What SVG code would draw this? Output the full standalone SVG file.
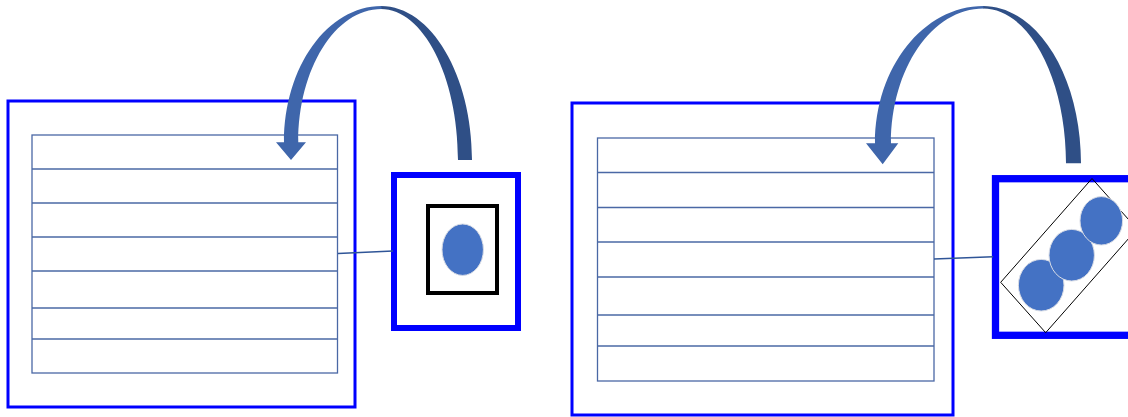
<svg xmlns="http://www.w3.org/2000/svg" width="1128" height="417" viewBox="0 0 1128 417">
  <defs>
    <style>
      .frame { fill: #ffffff; stroke: #0000ff; }
      .table { fill: #ffffff; stroke: #4a68a5; stroke-width: 1.3; }
      .row { stroke: #4a68a5; stroke-width: 1.3; }
      .conn { stroke: #2f5597; stroke-width: 1.6; fill: none; }
      .dot { fill: #4472c4; stroke: #d9dde6; stroke-width: 1; }
      .arrowL { fill: #3f66ab; }
      .arrowR { fill: #2f4f86; }
    </style>
  </defs>
  <rect width="1128" height="417" fill="#ffffff"/>

  <g id="table-left">
    <rect class="frame" x="8" y="101" width="347" height="306" stroke-width="3"/>
    <rect class="table" x="32" y="135" width="305.5" height="238"/>
    <line class="row" x1="32" y1="169" x2="337.5" y2="169"/>
    <line class="row" x1="32" y1="203" x2="337.5" y2="203"/>
    <line class="row" x1="32" y1="237" x2="337.5" y2="237"/>
    <line class="row" x1="32" y1="271" x2="337.5" y2="271"/>
    <line class="row" x1="32" y1="308" x2="337.5" y2="308"/>
    <line class="row" x1="32" y1="339" x2="337.5" y2="339"/>
  </g>

  <g id="cell-left">
    <rect class="frame" x="394" y="175" width="124" height="153" stroke-width="6"/>
    <rect x="428" y="206" width="69" height="87" fill="#ffffff" stroke="#000000" stroke-width="4"/>
    <ellipse class="dot" cx="462.7" cy="249.7" rx="20.7" ry="25.7"/>
  </g>

  <g id="table-right">
    <rect class="frame" x="572" y="103" width="381" height="312" stroke-width="3"/>
    <rect class="table" x="597.5" y="138" width="336.5" height="243"/>
    <line class="row" x1="597.5" y1="172.5" x2="934" y2="172.5"/>
    <line class="row" x1="597.5" y1="207.5" x2="934" y2="207.5"/>
    <line class="row" x1="597.5" y1="242" x2="934" y2="242"/>
    <line class="row" x1="597.5" y1="277" x2="934" y2="277"/>
    <line class="row" x1="597.5" y1="315" x2="934" y2="315"/>
    <line class="row" x1="597.5" y1="346" x2="934" y2="346"/>
  </g>

  <g id="cell-right">
    <rect class="frame" x="995.5" y="178.7" width="200" height="156.6" stroke-width="7.3"/>
    <polygon points="1092,178.5 1137,229 1045.7,332.7 1000.7,282.3" fill="none" stroke="#000000" stroke-width="1"/>
    <ellipse class="dot" cx="1041.2" cy="285.2" rx="22.8" ry="25.8"/>
    <ellipse class="dot" cx="1071.7" cy="255.2" rx="22.7" ry="25.8"/>
    <ellipse class="dot" cx="1101.3" cy="220.8" rx="21.3" ry="24.2"/>
  </g>

  <g id="connectors">
    <path class="conn" d="M338,253.5 L393,251"/>
    <path class="conn" d="M934,259 L993,256.7"/>
    <g id="arrow-left">
      <path class="arrowR" d="M381,6 C431,6 472,75 472,160 L458,160 C458,76 423,9 381,9 Z"/>
      <path class="arrowL" d="M284,142.3 C284,67 327.5,6 381.5,6 L381.5,9 C335,9 298.3,69 298.3,142.3 L306,142.3 L291,160 L276,142.3 Z"/>
    </g>
    <g id="arrow-right">
      <path class="arrowR" d="M983,6 C1037,6 1081,76 1081,163.3 L1066,163.3 C1066,78 1029,8.5 983,8.5 Z"/>
      <path class="arrowL" d="M875,143.3 C875,67.5 923.4,6 983.5,6 L983.5,8.5 C932,8.5 891,69 891,143.3 L898.3,143.3 L882.7,164.3 L866,143.3 Z"/>
    </g>
  </g>
</svg>
